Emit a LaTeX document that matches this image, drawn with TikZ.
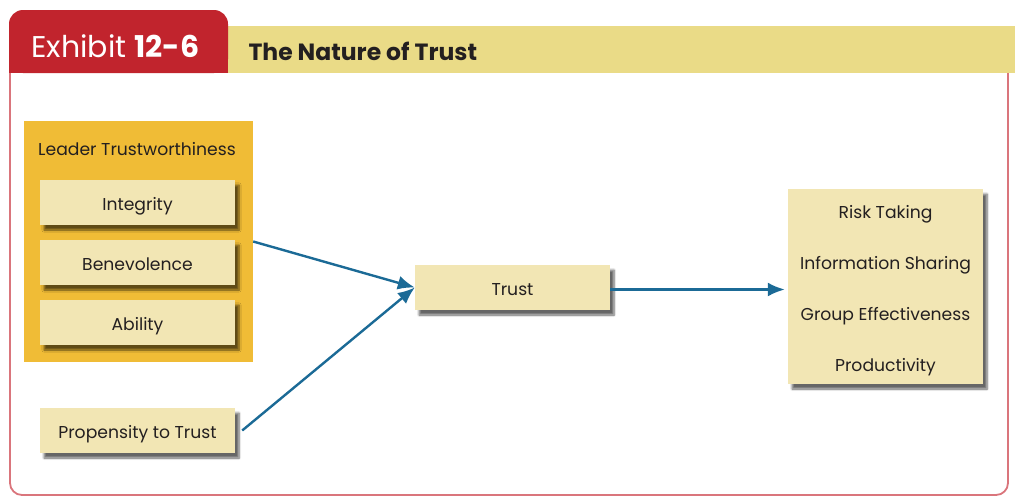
\documentclass[tikz,border=0pt]{standalone}
\usepackage{fontspec}
\setmainfont{Poppins}
\usepackage{tikz}
\usetikzlibrary{arrows.meta, positioning, shadows.blur}
\usepackage{xcolor}
\definecolor{exred}{HTML}{C1242D}
\definecolor{bandyellow}{HTML}{EADB87}
\definecolor{boxorange}{HTML}{F0BC36}
\definecolor{boxpale}{HTML}{F2E6B4}
\definecolor{framepink}{HTML}{DA757C}
\definecolor{arrowblue}{HTML}{1B6A96}
\definecolor{inkdark}{HTML}{231F20}

\begin{document}
\begin{tikzpicture}[x=1pt, y=-1pt,
    pale/.style={fill=boxpale, text=inkdark, inner sep=0pt,
        minimum width=195pt, minimum height=45pt,
        font=\fontsize{17.2}{20}\selectfont,
        blur shadow={shadow xshift=4pt, shadow yshift=-5pt,
            shadow blur steps=6, shadow opacity=60}},
    oneline/.style={text height=16pt, text depth=0pt},
    link/.style={draw=arrowblue, line width=2.4pt,
        -{Latex[length=17pt, width=14pt]}}]
    \useasboundingbox (0,0) rectangle (1015,496);

    % Frame
    \draw[framepink, line width=1.8pt, rounded corners=12pt]
        (10,73) -- (10,495) -- (1008,495) -- (1008,73);

    % Header
    \fill[bandyellow] (228,26) rectangle (1015,73);
    \fill[exred, rounded corners=14pt] (9,73) -- (9,10) -- (228,10) -- (228,73) -- cycle;
    \fill[exred] (9,50) rectangle (228,73);
    \node[anchor=west, text=white, font=\fontsize{30}{33}\selectfont] (exhibit) at (28,46)
        {Exhibit \textbf{12-6}};
    \node[anchor=west, text=inkdark, font=\fontsize{23.5}{26}\selectfont\bfseries] (title) at (245,51)
        {The Nature of Trust};

    % Leader trustworthiness
    \node[fill=boxorange, minimum width=229pt, minimum height=241pt, inner sep=0pt] (lt) at (138.5,241.5) {};
    \node[text=inkdark, font=\fontsize{17.2}{20}\selectfont] (lttitle) at (137,149) {Leader Trustworthiness};
    \node[pale, oneline] (integrity) at (137.5,202.5) {Integrity};
    \node[pale, oneline] (benevolence) at (137.5,262.5) {Benevolence};
    \node[pale, oneline] (ability) at (137.5,322.5) {Ability};

    % Propensity
    \node[pale, oneline] (propensity) at (137.5,430.5) {Propensity to Trust};

    % Trust
    \node[pale, oneline] (trust) at (512.5,287.5) {Trust};

    % Outcomes
    \node[pale, minimum height=195pt, align=center, text height=169.5pt, text depth=0pt,
        font=\fontsize{17.2}{51}\selectfont] (outcomes) at (885.5,286.5)
        {Risk Taking\\Information Sharing\\Group Effectiveness\\Productivity};

    % Arrows
    \draw[link] (lt.east) -- (trust.west);
    \draw[link] ([xshift=7pt]propensity.east) -- (trust.west);
    \draw[link] ([yshift=-2pt]trust.east) -- ([yshift=-2pt, xshift=-3pt]trust.east -| outcomes.west);
\end{tikzpicture}
\end{document}
